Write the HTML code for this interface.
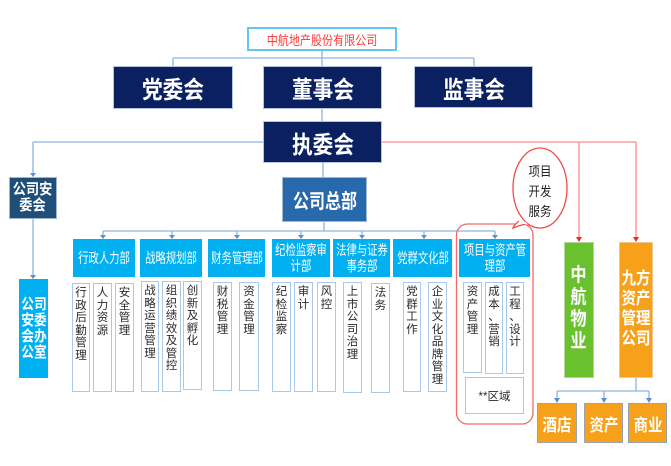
<!DOCTYPE html>
<html><head><meta charset="utf-8">
<style>
html,body{margin:0;padding:0;background:#fff;}
body{width:671px;height:466px;position:relative;overflow:hidden;font-family:"Liberation Sans","Noto Sans CJK SC",sans-serif;}
.b{position:absolute;box-sizing:border-box;display:flex;align-items:center;justify-content:center;text-align:center;color:#fff;}
.s{display:inline-block;white-space:nowrap;}
.navy{background:#0b2060;border:1px solid #b8c4dc;font-weight:bold;font-size:24px;}
.navy .s{transform:scaleX(0.86);}
.dept{background:#00b0f0;font-size:14px;line-height:16px;}
.dept .s{transform:scaleX(0.74);}
.sub{position:absolute;box-sizing:border-box;background:#fff;border:1.5px solid #a9c8ea;color:#2a2a2a;font-size:11.5px;line-height:12.5px;text-align:center;padding-top:3px;overflow:hidden;}
.org{background:#f7a11a;border:1px solid #9aa3ad;font-weight:bold;font-size:17px;}
.org .s{transform:scaleX(0.85);}
svg{position:absolute;left:0;top:0;}
</style></head><body>
<svg width="671" height="466" viewBox="0 0 671 466">
<g stroke="#8db3e2" stroke-width="1.3" fill="none">
<line x1="322" y1="51" x2="322" y2="66"/>
<line x1="173" y1="58" x2="474" y2="58"/>
<line x1="173" y1="58" x2="173" y2="66"/>
<line x1="474" y1="58" x2="474" y2="66"/>
<line x1="322" y1="109" x2="322" y2="121"/>
<line x1="33" y1="142" x2="263" y2="142"/>
<line x1="33" y1="142" x2="33" y2="174"/>
<line x1="323" y1="163" x2="323" y2="177"/>
<line x1="324" y1="222" x2="324" y2="231"/>
<line x1="103" y1="231" x2="495" y2="231"/>
<line x1="103" y1="231" x2="103" y2="236"/>
<line x1="172" y1="231" x2="172" y2="236"/>
<line x1="237" y1="231" x2="237" y2="236"/>
<line x1="301" y1="231" x2="301" y2="236"/>
<line x1="362" y1="231" x2="362" y2="236"/>
<line x1="424" y1="231" x2="424" y2="236"/>
<line x1="495" y1="231" x2="495" y2="236"/>
<line x1="33" y1="219" x2="33" y2="276"/>
<line x1="636" y1="378" x2="636" y2="391"/>
<line x1="557" y1="391" x2="649" y2="391"/>
<line x1="557" y1="391" x2="557" y2="399"/>
<line x1="604" y1="391" x2="604" y2="399"/>
<line x1="649" y1="391" x2="649" y2="399"/>
</g>
<g fill="#5b8fd6">
<polygon points="30,173 36,173 33,177"/>
<polygon points="100,235 106,235 103,239"/>
<polygon points="169,235 175,235 172,239"/>
<polygon points="234,235 240,235 237,239"/>
<polygon points="298,235 304,235 301,239"/>
<polygon points="359,235 365,235 362,239"/>
<polygon points="421,235 427,235 424,239"/>
<polygon points="492,235 498,235 495,239"/>
<polygon points="30,275 36,275 33,279"/>
<polygon points="554,398 560,398 557,403"/>
<polygon points="601,398 607,398 604,403"/>
<polygon points="646,398 652,398 649,403"/>
</g>
<g stroke="#ff8a8a" stroke-width="1.3" fill="none">
<line x1="382" y1="142" x2="636" y2="142"/>
<line x1="579" y1="142" x2="579" y2="238"/>
<line x1="636" y1="142" x2="636" y2="238"/>
</g>
<g fill="#ee2b2b">
<polygon points="576,237 582,237 579,242"/>
<polygon points="633,237 639,237 636,242"/>
</g>
<rect x="456.5" y="224" width="76.5" height="200" rx="11" ry="11" fill="none" stroke="#f26a6a" stroke-width="1.3"/>
<path d="M 519 221 Q 514 225 513 228 Q 520 225 527 224" fill="#fff" stroke="#f24a4a" stroke-width="1.3"/>
<ellipse cx="540" cy="188" rx="27" ry="40" fill="#fff" stroke="#f24a4a" stroke-width="1.3"/>
<path d="M 519 220 L 527 224" stroke="#fff" stroke-width="2"/>
</svg>

<div class="b" style="left:247px;top:27px;width:150px;height:24px;border:2px solid #5fc8f2;background:#fff;color:#ff3b3b;font-size:13px;"><span class="s" style="transform:scaleX(0.85)">中航地产股份有限公司</span></div>

<div class="b navy" style="left:113px;top:66px;width:120px;height:43px;"><span class="s">党委会</span></div>
<div class="b navy" style="left:263px;top:66px;width:119px;height:43px;"><span class="s">董事会</span></div>
<div class="b navy" style="left:414px;top:66px;width:119px;height:42px;"><span class="s">监事会</span></div>
<div class="b navy" style="left:263px;top:121px;width:119px;height:42px;"><span class="s">执委会</span></div>

<div class="b" style="left:9px;top:177px;width:48px;height:42px;background:#1f4e79;border:1px solid #9fb6cf;font-weight:bold;font-size:15px;line-height:16px;"><span class="s" style="transform:scaleX(0.88)">公司安<br>委会</span></div>
<div class="b" style="left:282px;top:177px;width:85px;height:45px;background:#2869ac;border:1px solid #9fb6cf;font-weight:bold;font-size:20px;"><span class="s" style="transform:scaleX(0.8)">公司总部</span></div>

<div class="b" style="left:19px;top:279px;width:29px;height:99px;background:#00b0f0;font-weight:bold;font-size:15px;line-height:16px;"><span class="s" style="transform:scaleX(0.85)">公司<br>安委<br>会办<br>公室</span></div>

<div class="b dept" style="left:73px;top:239px;width:62px;height:38px;"><span class="s">行政人力部</span></div>
<div class="b dept" style="left:140px;top:239px;width:62px;height:38px;"><span class="s">战略规划部</span></div>
<div class="b dept" style="left:208px;top:239px;width:57px;height:38px;"><span class="s">财务管理部</span></div>
<div class="b dept" style="left:272px;top:239px;width:58px;height:38px;"><span class="s">纪检监察审<br>计部</span></div>
<div class="b dept" style="left:333px;top:239px;width:57px;height:38px;"><span class="s">法律与证券<br>事务部</span></div>
<div class="b dept" style="left:393px;top:239px;width:59px;height:38px;"><span class="s">党群文化部</span></div>
<div class="b dept" style="left:459px;top:239px;width:71px;height:38px;"><span class="s">项目与资产管<br>理部</span></div>

<div class="sub" style="left:72px;top:283px;width:18px;height:109px;">行<br>政<br>后<br>勤<br>管<br>理</div>
<div class="sub" style="left:93px;top:283px;width:19px;height:109px;">人<br>力<br>资<br>源</div>
<div class="sub" style="left:115px;top:283px;width:19px;height:109px;">安<br>全<br>管<br>理</div>
<div class="sub" style="left:141px;top:281px;width:18px;height:111px;">战<br>略<br>运<br>营<br>管<br>理</div>
<div class="sub" style="left:162px;top:281px;width:19px;height:111px;">组<br>织<br>绩<br>效<br>及<br>管<br>控</div>
<div class="sub" style="left:183px;top:281px;width:19px;height:109px;">创<br>新<br>及<br>孵<br>化</div>
<div class="sub" style="left:213px;top:282px;width:19px;height:109px;">财<br>税<br>管<br>理</div>
<div class="sub" style="left:239px;top:282px;width:20px;height:109px;">资<br>金<br>管<br>理</div>
<div class="sub" style="left:272px;top:282px;width:19px;height:110px;">纪<br>检<br>监<br>察</div>
<div class="sub" style="left:294px;top:282px;width:19px;height:110px;">审<br>计</div>
<div class="sub" style="left:317px;top:282px;width:19px;height:110px;">风<br>控</div>
<div class="sub" style="left:343px;top:282px;width:19px;height:111px;">上<br>市<br>公<br>司<br>治<br>理</div>
<div class="sub" style="left:371px;top:283px;width:19px;height:110px;">法<br>务</div>
<div class="sub" style="left:403px;top:282px;width:18px;height:110px;">党<br>群<br>工<br>作</div>
<div class="sub" style="left:428px;top:282px;width:19px;height:110px;">企<br>业<br>文<br>化<br>品<br>牌<br>管<br>理</div>
<div class="sub" style="left:463px;top:282px;width:19px;height:91px;">资<br>产<br>管<br>理</div>
<div class="sub" style="left:485px;top:282px;width:18px;height:92px;">成<br>本<br>、<br>营<br>销</div>
<div class="sub" style="left:506px;top:282px;width:18px;height:92px;">工<br>程<br>、<br>设<br>计</div>
<div class="b" style="left:465px;top:377px;width:59px;height:37px;background:#fff;border:1.5px solid #a9c8ea;color:#2a2a2a;font-size:11.5px;"><span class="s">**区域</span></div>

<div style="position:absolute;left:524px;top:162px;width:32px;text-align:center;font-size:13px;line-height:20px;color:#222;"><span class="s" style="transform:scaleX(0.88)">项目<br>开发<br>服务</span></div>

<div class="b" style="left:564px;top:242px;width:30px;height:136px;background:#6ac12e;border:1px solid #b5d59a;font-weight:bold;font-size:19px;line-height:22px;align-items:flex-start;padding-top:22px;"><span class="s" style="transform:scaleX(0.85)">中<br>航<br>物<br>业</span></div>
<div class="b" style="left:619px;top:242px;width:34px;height:136px;background:#f7a11a;border:1px solid #f3c68a;font-weight:bold;font-size:17px;line-height:20px;align-items:flex-start;padding-top:26px;"><span class="s" style="transform:scaleX(0.85)">九方<br>资产<br>管理<br>公司</span></div>

<div class="b org" style="left:537px;top:403px;width:40px;height:40px;"><span class="s">酒店</span></div>
<div class="b org" style="left:584px;top:403px;width:39px;height:40px;"><span class="s">资产</span></div>
<div class="b org" style="left:628px;top:403px;width:39px;height:40px;"><span class="s">商业</span></div>
</body></html>
